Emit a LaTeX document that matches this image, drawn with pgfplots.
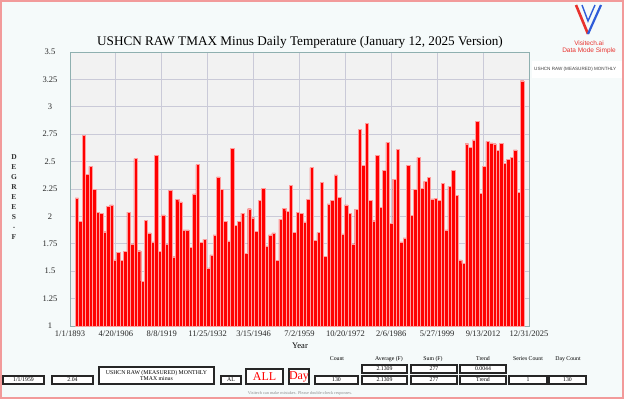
\documentclass[border=0pt]{standalone}
\usepackage{pgfplots}
\pgfplotsset{compat=1.18}
\usepackage{pgfplotstable}
\usepackage{fontspec}
\setmainfont{Liberation Serif}
\newfontfamily\sansf{Liberation Sans}
\definecolor{bgcol}{HTML}{F5FAFA}
\definecolor{plotbg}{HTML}{F2F2F2}
\definecolor{gridcol}{HTML}{CACAD8}
\definecolor{framecol}{HTML}{8FB0B0}
\definecolor{bordercol}{HTML}{F29A9A}
\definecolor{barred}{HTML}{FF0000}
\definecolor{baredge}{HTML}{FF9E9E}
\definecolor{logored}{HTML}{E8322E}
\definecolor{logoblue}{HTML}{2E5BD8}
\pgfplotstableread{
year val
1895 2.170
1896 1.955
1897 2.740
1898 2.385
1899 2.457
1900 2.250
1901 2.040
1902 2.027
1903 1.860
1904 2.090
1905 2.105
1906 1.603
1907 1.675
1908 1.597
1909 1.680
1910 2.040
1911 1.750
1912 2.527
1913 1.687
1914 1.410
1915 1.967
1916 1.850
1917 1.768
1918 2.560
1919 1.680
1920 2.015
1921 1.750
1922 2.238
1923 1.632
1924 2.157
1925 2.133
1926 1.877
1927 1.877
1928 1.720
1929 2.205
1930 2.473
1931 1.765
1932 1.790
1933 1.530
1934 1.648
1935 1.831
1936 2.361
1937 2.250
1938 1.955
1939 1.777
1940 2.623
1941 1.916
1942 1.955
1943 2.030
1944 1.663
1945 2.070
1946 1.988
1947 1.864
1948 2.145
1949 2.259
1950 1.732
1951 1.831
1952 1.850
1953 1.597
1954 1.976
1955 2.072
1956 2.048
1957 2.286
1958 1.852
1959 2.039
1960 2.030
1961 1.949
1962 2.154
1963 2.446
1964 1.780
1965 1.852
1966 2.310
1967 1.636
1968 2.114
1969 2.145
1970 2.380
1971 2.172
1972 1.840
1973 2.105
1974 2.027
1975 1.750
1976 2.066
1977 2.792
1978 2.467
1979 2.852
1980 2.145
1981 1.961
1982 2.560
1983 2.081
1984 2.419
1985 2.675
1986 1.934
1987 2.340
1988 2.614
1989 1.768
1990 1.804
1991 2.467
1992 2.012
1993 2.250
1994 2.539
1995 2.259
1996 2.319
1997 2.358
1998 2.160
1999 2.166
2000 2.145
2001 2.301
2002 1.877
2003 2.274
2004 2.422
2005 2.190
2006 1.603
2007 1.569
2008 2.663
2009 2.633
2010 2.699
2011 2.870
2012 2.211
2013 2.458
2014 2.684
2015 2.672
2016 2.663
2017 2.600
2018 2.666
2019 2.482
2020 2.521
2021 2.536
2022 2.606
2023 2.220
2024 3.238
}\datatable
\begin{document}
\begin{tikzpicture}
\useasboundingbox (0pt,0pt) rectangle (624pt,-399pt);
\fill[bgcol] (0pt,0pt) rectangle (624pt,-399pt);
\draw[bordercol, line width=1.6pt] (0.8pt,-0.8pt) rectangle (623.2pt,-398.2pt);
\begin{axis}[
  at={(70pt,-326pt)}, anchor=south west,
  width=459pt, height=274pt, scale only axis,
  xmin=1893, xmax=2026, ymin=1, ymax=3.5,
  xtick={1893,1906.3,1919.6,1932.9,1946.2,1959.5,1972.8,1986.1,1999.4,2012.7,2026},
  xticklabels={1/1/1893,4/20/1906,8/8/1919,11/25/1932,3/15/1946,7/2/1959,10/20/1972,2/6/1986,5/27/1999,9/13/2012,12/31/2025},
  ytick={1,1.25,1.5,1.75,2,2.25,2.5,2.75,3,3.25,3.5},
  yticklabels={1,1.25,1.5,1.75,2,2.25,2.5,2.75,3,3.25,3.5},
  grid=major,
  major grid style={gridcol, line width=0.9pt},
  axis line style={framecol, line width=0.9pt},
  major tick length=0pt,
  tick style={draw=none},
  axis background/.style={fill=plotbg},
  ticklabel style={font=\fontsize{8.5}{9}\selectfont, text=black!85},
  yticklabel style={anchor=center, xshift=-20pt},
  xticklabel style={anchor=north, yshift=-1.5pt},
  /pgf/number format/assume math mode=true,
]
\addplot[ybar, bar width=1, bar shift=0pt, fill=barred, draw=baredge, line width=0.35pt] table[x=year, y=val] {\datatable};
\end{axis}
\begin{scope}[x=1pt, y=-1pt]
  % title
  \node at (300,42) {\fontsize{13.2}{15}\selectfont USHCN RAW TMAX Minus Daily Temperature (January 12, 2025 Version)};
  % y label
  \node[align=center, font=\fontsize{7.5}{9.9}\selectfont\bfseries, text=black!80] at (14,197) {D\\E\\G\\R\\E\\E\\S\\-\\F};
  % x label
  \node at (300,346) {\fontsize{8.5}{9}\selectfont Year};
  % logo
  \draw[logored, line width=2.6pt] (576,5) -- (588,34);
  \draw[logoblue, line width=2.2pt] (588,34) -- (601,5);
  \draw[logoblue, line width=1.4pt] (582,5) -- (588,21) -- (595,5);
  \node[text=logored] at (589,43) {\sansf\fontsize{6.5}{7}\selectfont Visitech.ai};
  \node[text=logored] at (589,51) {\sansf\fontsize{6.5}{7}\selectfont Data Mode Simple};
  % legend box
  \fill[white] (532,61) rectangle (622,78);
  \node[anchor=west, inner sep=0pt, text=black!75] at (534,69.5) {\sansf\fontsize{4.6}{5}\selectfont USHCN RAW (MEASURED) MONTHLY};
  % bottom boxes
  \tikzset{bx/.style={draw=black!85, line width=1.4pt, fill=white}}
  \newcommand{\bbox}[5]{\draw[bx] (#1,#2) rectangle (#3,#4); \node[align=center, inner sep=0pt, font=\fontsize{5.8}{6.6}\selectfont] at ({(#1+#3)/2},{(#2+#4)/2}) {#5};}
  \bbox{3}{376}{44}{384}{1/1/1959}
  \bbox{52}{376}{93}{384}{2.04}
  \bbox{99}{367}{214}{384}{USHCN RAW (MEASURED) MONTHLY\\TMAX minus}
  \bbox{221}{376}{241}{384}{AL}
  \draw[bx] (246,369) rectangle (283,384);
  \node[text=red, inner sep=0pt] at (264.5,376.5) {\fontsize{12}{13}\selectfont ALL};
  \draw[bx] (289,369) rectangle (309,384);
  \node[text=red, inner sep=0pt] at (299,376.5) {\fontsize{12}{13}\selectfont Day};
  \bbox{315}{376}{358}{384}{130}
  \bbox{362}{365}{407}{373}{2.1309}
  \bbox{362}{376}{407}{384}{2.1309}
  \bbox{411}{365}{457}{373}{277}
  \bbox{411}{376}{457}{384}{277}
  \bbox{460}{365}{506}{373}{0.0044}
  \bbox{460}{376}{506}{384}{Trend}
  \bbox{509}{376}{547}{384}{1}
  \bbox{549}{376}{586}{384}{130}
  \tikzset{hd/.style={font=\fontsize{5.8}{6.4}\selectfont, inner sep=0pt}}
  \node[hd] at (337,359) {Count};
  \node[hd] at (389,359) {Average (F)};
  \node[hd] at (433,359) {Sum (F)};
  \node[hd] at (483,359) {Trend};
  \node[hd] at (528,359) {Series Count};
  \node[hd] at (568,359) {Day Count};
  \node[text=black!45, inner sep=0pt] at (300,393) {\fontsize{4.3}{5}\selectfont Visitech can make mistakes. Please double-check responses.};
\end{scope}
\end{tikzpicture}
\end{document}
